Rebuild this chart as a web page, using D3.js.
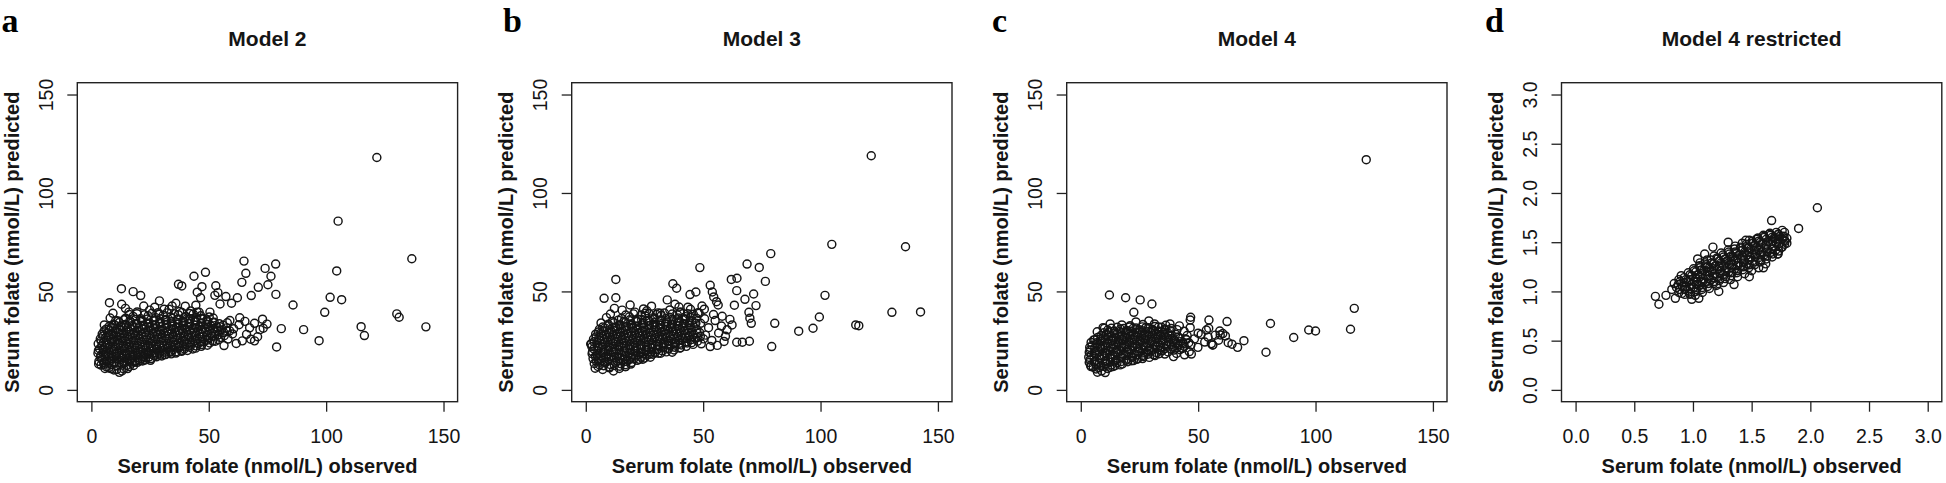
<!DOCTYPE html>
<html><head><meta charset="utf-8">
<script src="https://cdn.jsdelivr.net/npm/d3@7"></script>
<style>body{margin:0;background:#fff}svg{display:block}</style>
</head><body>
<svg id="chart" width="1946" height="483"></svg>
<script>
const panelLetters = ["a","b","c","d"];
const panelTitles = ["Model 2","Model 3","Model 4","Model 4 restricted"];
const xTitle = "Serum folate (nmol/L) observed";
const yTitle = "Serum folate (nmol/L) predicted";
const ticksFull = [0,50,100,150];
const ticksRestricted = [0,0.5,1,1.5,2,2.5,3];
const limsFull = [0,150];
const limsRestricted = [0,3];

// [observed, predicted]
const model2 = [
[7.4,11.2],[9.6,10.1],[11.9,8.9],[13.8,10.6],[16.2,11.9],
[4.1,12.6],[6.3,11.8],[8.5,12.9],[10.7,12.2],[12.8,13.1],[15.0,12.4],[17.3,13.6],[19.6,14.0],[21.8,14.7],
[3.2,14.5],[5.4,13.9],[7.6,14.8],[9.8,14.1],[12.0,15.2],[14.1,14.6],[16.4,15.5],[18.6,14.9],[20.9,15.8],[23.1,16.3],[25.4,15.9],[27.7,16.8],[30.0,17.2],
[3.9,16.4],[6.1,16.9],[8.4,15.9],[10.6,17.1],[12.9,16.3],[15.1,17.4],[17.4,16.6],[19.7,17.7],[22.0,17.0],[24.3,18.2],[26.6,17.5],[28.9,18.6],[31.2,18.0],[33.6,19.1],[36.0,18.7],[38.4,19.6],
[2.8,18.6],[5.0,19.1],[7.3,18.2],[9.5,19.4],[11.8,18.5],[14.0,19.7],[16.3,18.9],[18.6,19.9],[20.9,19.2],[23.2,20.3],[25.5,19.6],[27.8,20.6],[30.1,19.9],[32.5,21.0],[34.8,20.4],[37.2,21.4],[39.6,20.8],[42.0,21.7],[44.4,21.2],[46.8,22.1],
[3.5,20.9],[5.8,21.6],[8.0,20.6],[10.3,21.9],[12.6,21.0],[14.9,22.2],[17.2,21.3],[19.5,22.5],[21.8,21.7],[24.1,22.8],[26.4,22.0],[28.8,23.1],[31.1,22.4],[33.5,23.5],[35.9,22.8],[38.3,23.9],[40.7,23.2],[43.1,24.2],[45.5,23.5],[47.9,24.4],[50.4,23.8],[52.8,24.7],
[2.9,23.4],[5.2,24.1],[7.5,23.1],[9.8,24.4],[12.1,23.6],[14.4,24.8],[16.7,23.9],[19.0,25.1],[21.3,24.3],[23.7,25.4],[26.0,24.6],[28.4,25.8],[30.7,25.0],[33.1,26.1],[35.5,25.3],[37.9,26.4],[40.3,25.7],[42.7,26.7],[45.1,26.0],[47.5,27.0],[50.0,26.3],[52.5,27.3],[55.0,26.6],
[3.8,25.9],[6.1,26.6],[8.4,25.6],[10.7,26.9],[13.0,26.1],[15.3,27.2],[17.6,26.4],[19.9,27.6],[22.3,26.8],[24.6,27.9],[27.0,27.1],[29.4,28.2],[31.8,27.5],[34.2,28.6],[36.6,27.8],[39.0,28.9],[41.4,28.1],[43.8,29.2],[46.3,28.5],[48.8,29.5],[51.3,28.8],[53.8,29.8],[56.4,29.1],[58.9,30.0],
[4.6,28.3],[6.9,29.0],[9.2,28.1],[11.5,29.3],[13.8,28.6],[16.1,29.7],[18.5,28.9],[20.8,30.0],[23.2,29.2],[25.5,30.3],[27.9,29.5],[30.3,30.6],[32.7,29.9],[35.1,31.0],[37.5,30.2],[39.9,31.3],[42.3,30.5],[44.7,31.6],[47.2,30.8],[49.7,31.9],[52.2,31.2],[54.8,32.1],[57.5,31.5],
[6.2,30.8],[8.5,31.6],[10.8,30.6],[13.1,31.9],[15.4,31.1],[17.8,32.2],[20.1,31.4],[22.5,32.5],[24.9,31.7],[27.3,32.8],[29.7,32.0],[32.1,33.1],[34.5,32.3],[36.9,33.4],[39.3,32.6],[41.7,33.7],[44.2,32.9],[46.7,34.0],[49.2,33.2],[51.8,34.2],[54.5,33.6],
[9.4,33.4],[11.9,34.2],[14.3,33.2],[16.7,34.5],[19.1,33.7],[21.6,34.8],[24.0,34.0],[26.5,35.1],[29.0,34.3],[31.5,35.4],[34.0,34.6],[36.5,35.7],[39.0,34.9],[41.5,36.0],[44.0,35.2],[46.6,36.3],[49.2,35.5],[51.9,36.5],
[14.6,36.4],[17.8,37.3],[21.0,36.1],[24.2,37.6],[27.4,36.7],[30.6,37.9],[33.8,37.0],[37.0,38.2],[40.2,37.3],[43.4,38.5],[46.6,37.6],
[19.5,39.6],[24.8,40.5],[28.4,39.2],[33.1,40.9],[37.6,39.8],[42.3,40.1],[45.9,39.4],
[5.8,10.9],[8.3,10.8],[10.8,10.3],[13.0,9.6],[15.4,10.8],[18.0,12.4],
[3.1,13.2],[5.3,13.0],[7.5,13.7],[9.7,13.5],[11.9,14.0],[14.0,13.6],[16.3,14.3],[18.5,14.1],[20.8,14.9],[23.0,15.2],[25.2,15.0],
[4.4,15.6],[6.6,15.2],[8.8,16.0],[11.0,15.7],[13.3,16.2],[15.5,15.9],[17.8,16.6],[20.0,16.4],[22.3,16.9],[24.6,16.7],[26.9,17.2],[29.2,17.6],[31.6,17.9],[34.0,18.3],
[4.0,17.6],[6.2,18.0],[8.5,17.5],[10.7,18.2],[13.0,17.9],[15.2,18.4],[17.5,17.9],[19.8,18.6],[22.1,18.3],[24.4,18.9],[26.7,18.7],[29.0,19.3],[31.4,19.1],[33.8,19.6],[36.1,19.4],[38.5,20.1],[40.9,20.0],[43.2,20.8],
[3.0,20.0],[5.2,20.4],[7.4,19.8],[9.6,20.6],[11.9,20.2],[14.1,20.9],[16.4,20.4],[18.7,21.1],[21.0,20.6],[23.3,21.3],[25.6,20.9],[27.9,21.6],[30.3,21.2],[32.6,21.9],[35.0,21.5],[37.4,22.2],[39.8,21.8],[42.2,22.6],[44.6,22.3],[47.0,23.0],[49.4,22.7],
[4.5,22.4],[6.8,22.9],[9.1,22.2],[11.4,23.0],[13.7,22.5],[16.0,23.2],[18.3,22.7],[20.6,23.4],[22.9,22.9],[25.2,23.6],[27.6,23.2],[29.9,23.9],[32.3,23.5],[34.7,24.2],[37.1,23.8],[39.5,24.6],[41.9,24.1],[44.3,24.9],[46.7,24.5],[49.2,25.2],[51.7,24.8],[54.2,25.5],
[4.1,24.9],[6.4,25.3],[8.7,24.7],[11.0,25.5],[13.3,25.0],[15.6,25.7],[17.9,25.2],[20.2,25.9],[22.6,25.4],[24.9,26.1],[27.3,25.7],[29.7,26.4],[32.0,26.0],[34.4,26.7],[36.8,26.2],[39.2,26.9],[41.6,26.6],[44.0,27.3],[46.5,26.9],[49.0,27.6],[51.5,27.2],[54.0,27.9],[56.6,27.5],
[5.0,27.4],[7.3,27.9],[9.6,27.2],[11.9,28.0],[14.2,27.5],[16.5,28.2],[18.8,27.7],[21.2,28.4],[23.5,27.9],[25.9,28.6],[28.3,28.2],[30.7,28.9],[33.1,28.4],[35.5,29.1],[37.9,28.7],[40.3,29.4],[42.7,29.0],[45.1,29.7],[47.6,29.3],[50.1,30.0],[52.6,29.6],[55.2,30.4],[57.8,29.9],
[5.4,29.9],[7.7,30.4],[10.0,29.7],[12.3,30.5],[14.7,30.0],[17.0,30.7],[19.4,30.2],[21.7,30.9],[24.1,30.4],[26.5,31.1],[28.9,30.7],[31.3,31.4],[33.7,30.9],[36.1,31.6],[38.5,31.2],[40.9,31.9],[43.4,31.4],[45.9,32.1],[48.4,31.7],[50.9,32.4],[53.5,32.0],[56.1,32.8],
[7.6,32.3],[10.0,32.9],[12.4,32.4],[14.8,33.0],[17.2,32.6],[19.6,33.3],[22.0,32.8],[24.5,33.5],[26.9,33.0],[29.4,33.7],[31.9,33.2],[34.4,33.9],[36.9,33.5],[39.4,34.2],[41.9,33.7],[44.4,34.4],[47.0,33.9],[49.6,34.6],[52.3,34.3],
[11.4,35.0],[13.9,35.6],[16.4,35.1],[18.9,35.8],[21.5,35.3],[24.0,36.0],[26.6,35.5],[29.2,36.2],[31.8,35.7],[34.4,36.4],[37.0,35.9],[39.6,36.6],[42.2,36.1],[44.8,36.8],[47.5,36.3],[50.2,37.0],
[16.2,38.3],[19.4,38.7],[22.6,38.1],[25.8,38.9],[29.0,38.4],[32.2,39.1],[35.4,38.6],[38.6,39.3],[41.8,38.8],[45.0,39.5],
[5.5,33.0],[8.0,36.5],[16.0,39.5],[27.0,42.0],[31.0,41.0],[40.0,42.5],[44.5,43.0],[50.5,39.5],[36.0,44.0],
[56.5,22.5],[58.2,25.8],[60.1,28.4],[61.7,23.6],[62.9,33.1],[64.3,24.9],[66.1,28.2],[67.4,31.5],[69.5,33.8],[69.5,24.9],[70.8,27.0],[72.9,35.9],[71.8,30.6],[74.8,33.4],[59.0,35.2],[63.2,36.6],[57.9,34.1],[60.6,31.0],[65.4,34.8],[67.9,25.7],[73.2,31.3],
[121.6,118.0],[105.1,85.7],[136.5,66.6],[104.5,60.4],[101.7,47.0],[106.6,45.8],[99.4,39.4],[85.9,43.1],[130.1,38.6],[131.1,36.9],[114.9,32.1],[116.3,27.6],[142.5,32.0],[97.0,25.0],[90.4,30.6],[80.9,31.1],[78.9,21.8],
[78.5,63.9],[74.0,61.7],[76.5,57.7],[75.2,53.4],[71.1,52.1],[78.6,48.5],[65.0,65.4],[65.8,59.2],[64.1,54.6],[68.1,47.9],[62.2,46.8],[59.7,44.0],
[48.6,59.7],[43.7,57.7],[47.1,52.4],[45.1,49.6],[46.5,46.8],[53.0,52.9],[53.9,49.4],[52.6,48.0],[54.8,43.6],[57.3,47.4],[37.1,53.6],[38.5,52.8],
[12.8,51.4],[17.8,49.9],[21.0,47.9],[29.0,45.2],[7.7,44.3],[9.2,38.9],[12.9,43.5],[14.5,41.4],[22.3,42.6],[10.4,35.2],[34.4,42.6]
];

const model3 = [
[4.0,11.0],[7.2,10.4],[10.1,11.2],[11.8,9.6],[14.3,10.9],[16.9,11.8],
[3.6,13.4],[5.9,12.7],[8.2,13.8],[10.4,12.9],[12.7,14.0],[14.9,13.3],[17.2,14.4],[19.5,13.9],[21.9,15.0],[24.3,15.6],
[3.1,15.9],[5.3,15.2],[7.6,16.3],[9.8,15.5],[12.1,16.6],[14.4,15.8],[16.7,16.9],[19.0,16.1],[21.3,17.2],[23.7,16.6],[26.1,17.6],[28.5,18.1],[30.9,18.6],
[2.7,18.4],[4.9,17.7],[7.2,18.8],[9.4,18.0],[11.7,19.1],[14.0,18.3],[16.3,19.4],[18.6,18.6],[20.9,19.7],[23.2,18.9],[25.6,20.0],[27.9,19.3],[30.3,20.4],[32.7,19.8],[35.1,20.8],[37.6,20.3],[40.1,21.2],
[3.4,20.8],[5.6,21.5],[7.9,20.4],[10.1,21.7],[12.4,20.9],[14.7,22.0],[17.0,21.2],[19.3,22.3],[21.6,21.5],[24.0,22.6],[26.3,21.8],[28.7,22.9],[31.1,22.1],[33.5,23.2],[35.9,22.5],[38.3,23.5],[40.7,22.8],[43.2,23.8],[45.7,23.1],
[2.4,23.3],[4.7,24.0],[7.0,23.0],[9.3,24.3],[11.6,23.5],[13.9,24.6],[16.2,23.8],[18.5,24.9],[20.9,24.1],[23.2,25.2],[25.6,24.4],[28.0,25.5],[30.4,24.7],[32.8,25.8],[35.2,25.0],[37.6,26.1],[40.0,25.3],[42.5,26.4],[45.0,25.6],[47.5,26.6],[50.1,25.9],
[3.3,25.8],[5.6,26.5],[7.9,25.5],[10.2,26.8],[12.5,26.0],[14.8,27.1],[17.1,26.3],[19.5,27.4],[21.8,26.6],[24.2,27.7],[26.6,26.9],[29.0,28.0],[31.4,27.2],[33.8,28.3],[36.2,27.5],[38.6,28.6],[41.0,27.8],[43.5,28.9],[46.0,28.1],[48.5,29.1],
[4.2,28.3],[6.5,29.0],[8.8,28.0],[11.1,29.3],[13.4,28.5],[15.8,29.6],[18.1,28.8],[20.5,29.9],[22.9,29.1],[25.3,30.2],[27.7,29.4],[30.1,30.5],[32.5,29.7],[34.9,30.8],[37.3,30.0],[39.8,31.1],[42.3,30.3],[44.8,31.4],[47.3,30.6],
[5.8,30.8],[8.1,31.5],[10.4,30.5],[12.8,31.8],[15.1,31.0],[17.5,32.1],[19.9,31.3],[22.3,32.4],[24.7,31.6],[27.1,32.7],[29.5,31.9],[31.9,33.0],[34.4,32.2],[36.9,33.3],[39.4,32.5],[41.9,33.6],[44.4,32.8],[46.9,33.9],
[9.6,33.3],[12.0,34.1],[14.5,33.1],[17.0,34.4],[19.5,33.6],[22.0,34.7],[24.5,33.9],[27.0,35.0],[29.6,34.2],[32.2,35.3],[34.8,34.5],[37.4,35.6],[40.0,34.8],[42.6,35.9],[45.2,35.1],
[15.2,36.3],[18.6,37.1],[22.0,36.0],[25.4,37.5],[28.8,36.6],[32.2,37.8],[35.6,36.9],[39.0,38.1],[42.4,37.2],[45.8,38.4],
[20.9,39.5],[26.0,40.2],[30.7,39.1],[35.8,40.6],[40.3,39.6],[44.6,40.9],[47.8,39.2],
[5.2,11.9],[7.6,12.3],[9.9,11.6],[12.2,12.4],[14.5,12.0],[16.9,12.8],[19.2,13.1],
[4.5,14.6],[6.8,14.9],[9.0,14.3],[11.3,15.1],[13.5,14.7],[15.8,15.3],[18.1,15.0],[20.4,15.7],[22.8,15.5],[25.1,16.2],[27.5,16.6],
[4.1,17.0],[6.4,17.4],[8.6,16.8],[10.9,17.6],[13.2,17.1],[15.5,17.8],[17.8,17.3],[20.1,18.0],[22.4,17.7],[24.8,18.4],[27.1,18.1],[29.5,18.8],[31.9,18.6],[34.3,19.3],[36.8,19.1],
[2.9,19.4],[5.1,19.9],[7.4,19.3],[9.6,20.1],[11.9,19.6],[14.2,20.3],[16.5,19.8],[18.8,20.5],[21.1,20.1],[23.5,20.8],[25.8,20.4],[28.2,21.1],[30.6,20.7],[33.0,21.4],[35.4,21.0],[37.8,21.7],[40.3,21.4],[42.8,22.1],
[2.6,21.9],[4.9,22.4],[7.2,21.8],[9.4,22.6],[11.7,22.1],[14.0,22.8],[16.3,22.3],[18.6,23.0],[21.0,22.5],[23.3,23.2],[25.7,22.8],[28.1,23.5],[30.5,23.1],[32.9,23.8],[35.3,23.4],[37.7,24.1],[40.1,23.7],[42.6,24.4],[45.1,24.0],[47.6,24.7],
[3.5,24.4],[5.8,24.9],[8.1,24.3],[10.4,25.1],[12.7,24.6],[15.0,25.3],[17.3,24.8],[19.7,25.5],[22.0,25.0],[24.4,25.7],[26.8,25.3],[29.2,26.0],[31.6,25.6],[34.0,26.3],[36.4,25.9],[38.8,26.6],[41.2,26.2],[43.7,26.9],[46.2,26.5],[48.8,27.2],
[4.4,26.9],[6.7,27.4],[9.0,26.7],[11.3,27.5],[13.6,27.0],[16.0,27.7],[18.3,27.2],[20.7,27.9],[23.0,27.4],[25.4,28.1],[27.8,27.7],[30.2,28.4],[32.6,28.0],[35.0,28.7],[37.4,28.3],[39.9,29.0],[42.4,28.6],[44.9,29.3],[47.4,28.9],
[5.3,29.4],[7.6,29.9],[9.9,29.2],[12.2,30.0],[14.6,29.5],[16.9,30.2],[19.3,29.7],[21.7,30.4],[24.1,29.9],[26.5,30.6],[28.9,30.2],[31.3,30.9],[33.7,30.5],[36.1,31.2],[38.6,30.8],[41.1,31.5],[43.6,31.1],[46.1,31.8],
[7.2,31.9],[9.6,32.5],[12.0,31.8],[14.4,32.6],[16.8,32.1],[19.2,32.8],[21.6,32.3],[24.1,33.0],[26.5,32.5],[29.0,33.2],[31.5,32.8],[34.0,33.5],[36.5,33.1],[39.0,33.8],[41.5,33.4],[44.0,34.1],[46.6,33.7],
[11.3,34.8],[13.8,35.4],[16.3,34.9],[18.8,35.6],[21.3,35.1],[23.8,35.8],[26.3,35.3],[28.9,36.0],[31.5,35.5],[34.1,36.2],[36.7,35.8],[39.3,36.5],[41.9,36.1],[44.5,36.8],[47.1,36.4],
[17.0,38.0],[20.3,38.6],[23.6,38.0],[26.9,38.8],[30.2,38.3],[33.5,39.0],[36.8,38.5],[40.1,39.2],[43.4,38.7],
[6.5,34.0],[10.5,38.5],[15.5,40.5],[28.0,42.5],[38.0,43.5],[43.5,42.0],[50.5,41.0],
[49.2,23.4],[51.0,27.8],[52.3,31.6],[53.7,25.1],[55.1,35.2],[56.6,28.9],[57.8,32.4],[58.9,24.6],[60.2,30.5],[61.4,35.8],[59.5,27.2],[54.4,38.3],[50.6,36.1],[48.9,33.8],[56.0,22.6],[62.3,33.0],[58.1,37.4],
[121.6,118.9],[104.8,73.9],[136.2,72.7],[78.8,69.2],[73.9,62.2],[68.7,63.9],[48.6,62.1],[64.4,56.7],[62.0,56.1],[76.5,55.1],[64.3,50.4],[71.5,48.7],[67.8,46.0],[72.5,42.8],[63.3,43.0],
[101.9,48.0],[99.5,37.0],[96.8,31.3],[90.7,29.8],[80.5,33.8],[79.2,22.0],[115.0,33.0],[116.3,32.6],[130.4,39.4],[142.6,39.6],
[69.5,39.4],[69.9,36.4],[70.5,33.8],[69.7,24.7],[64.3,24.2],[66.7,24.2],[53.0,22.0],
[37.1,53.9],[38.7,51.6],[34.7,45.7],[53.0,53.1],[53.9,49.7],[54.5,47.2],[55.7,44.8],[56.4,43.1],[44.4,48.4],[46.9,49.7],[49.5,42.6],
[12.8,56.1],[12.8,46.8],[7.8,46.5],[12.2,41.4],[8.8,36.7],[18.9,43.1],[24.6,41.1],[25.3,38.9],[31.7,38.9],[39.7,42.1],[48.3,38.9],[2.1,23.3],[16.9,11.8]
];

const model4 = [
[6.5,10.6],[8.9,9.7],[11.4,10.9],[13.6,11.8],
[4.2,12.4],[6.4,13.1],[8.6,12.2],[10.9,13.4],[13.1,12.7],[15.4,13.8],[17.7,13.2],[20.0,14.3],[22.4,14.9],
[3.9,15.2],[6.1,14.6],[8.3,15.7],[10.6,14.9],[12.8,16.0],[15.1,15.2],[17.4,16.3],[19.7,15.6],[22.0,16.6],[24.4,16.0],[26.8,17.0],[29.2,16.5],[31.6,17.4],
[4.5,17.6],[6.7,18.3],[9.0,17.3],[11.2,18.5],[13.5,17.7],[15.8,18.8],[18.1,18.0],[20.4,19.1],[22.7,18.3],[25.1,19.4],[27.5,18.6],[29.9,19.7],[32.3,18.9],[34.7,19.9],[37.2,19.3],[39.7,20.2],
[4.0,20.3],[6.2,19.7],[8.5,20.8],[10.7,20.0],[13.0,21.1],[15.3,20.3],[17.6,21.4],[19.9,20.6],[22.2,21.7],[24.6,20.9],[27.0,22.0],[29.4,21.2],[31.8,22.3],[34.2,21.5],[36.6,22.6],[39.1,21.8],[41.6,22.8],[44.1,22.1],
[4.8,22.6],[7.0,23.3],[9.3,22.3],[11.5,23.5],[13.8,22.7],[16.1,23.8],[18.4,23.0],[20.7,24.1],[23.0,23.3],[25.4,24.4],[27.8,23.6],[30.2,24.7],[32.6,23.9],[35.0,25.0],[37.4,24.2],[39.9,25.2],[42.4,24.5],[44.9,25.5],
[6.0,25.4],[8.3,24.8],[10.5,25.9],[12.8,25.1],[15.1,26.2],[17.4,25.4],[19.7,26.5],[22.0,25.7],[24.4,26.8],[26.8,26.0],[29.2,27.1],[31.6,26.3],[34.0,27.4],[36.4,26.6],[38.9,27.6],[41.4,26.9],
[8.6,27.6],[10.9,28.3],[13.2,27.3],[15.5,28.5],[17.8,27.7],[20.1,28.8],[22.5,28.0],[24.9,29.1],[27.3,28.3],[29.7,29.4],[32.1,28.6],[34.6,29.7],[37.1,28.9],
[11.5,30.4],[14.2,29.8],[16.9,30.9],[19.6,30.2],[22.3,31.3],[25.0,30.5],[27.7,31.6],[30.4,30.8],[33.1,31.9],[35.8,30.9],
[9.5,31.6],[17.5,33.0],[21.0,32.6],[26.5,33.2],[31.4,33.5],[36.2,32.8],
[5.3,11.6],[7.7,11.2],[10.1,11.9],[12.4,11.4],[14.6,12.3],[16.8,12.7],
[3.6,13.9],[5.8,14.3],[8.0,13.7],[10.3,14.5],[12.5,14.0],[14.8,14.7],[17.0,14.3],[19.3,15.0],[21.6,14.8],[23.9,15.5],[26.3,15.9],
[3.4,16.6],[5.6,16.9],[7.9,16.3],[10.1,17.1],[12.4,16.6],[14.6,17.3],[16.9,16.8],[19.2,17.5],[21.5,17.1],[23.8,17.8],[26.2,17.4],[28.6,18.1],[31.0,17.8],[33.4,18.4],[35.8,18.2],
[3.6,19.1],[5.8,18.9],[8.0,19.4],[10.3,18.9],[12.5,19.6],[14.8,19.2],[17.1,19.9],[19.4,19.4],[21.7,20.1],[24.0,19.7],[26.4,20.4],[28.8,20.0],[31.2,20.7],[33.6,20.3],[36.0,21.0],[38.4,20.7],[40.9,21.3],[43.3,21.0],
[3.8,21.6],[6.0,21.3],[8.2,21.9],[10.5,21.4],[12.7,22.1],[15.0,21.6],[17.3,22.3],[19.6,21.9],[21.9,22.6],[24.2,22.1],[26.6,22.8],[29.0,22.4],[31.4,23.1],[33.8,22.7],[36.2,23.4],[38.6,23.0],[41.1,23.6],[43.6,23.3],[46.0,24.0],
[4.4,24.1],[6.7,23.9],[9.0,24.5],[11.2,24.0],[13.5,24.7],[15.8,24.2],[18.1,24.9],[20.4,24.4],[22.8,25.1],[25.2,24.6],[27.6,25.3],[30.0,24.9],[32.4,25.6],[34.8,25.2],[37.2,25.9],[39.7,25.5],[42.2,26.1],[44.7,25.8],
[7.2,26.6],[9.5,26.3],[11.8,26.9],[14.1,26.5],[16.4,27.2],[18.7,26.7],[21.0,27.4],[23.4,26.9],[25.8,27.6],[28.2,27.1],[30.6,27.8],[33.0,27.4],[35.4,28.1],[37.9,27.7],[40.4,28.3],
[9.8,29.0],[12.1,29.4],[14.4,28.9],[16.7,29.6],[19.0,29.1],[21.4,29.8],[23.8,29.3],[26.2,30.0],[28.6,29.5],[31.0,30.2],[33.4,29.8],[35.9,30.4],[38.3,30.0],
[13.0,31.3],[15.6,31.8],[18.2,31.2],[20.8,31.9],[23.5,31.4],[26.2,32.0],[28.9,31.6],[31.6,32.2],[34.4,31.8],
[7.0,29.5],[12.5,33.5],[23.5,34.5],[29.0,35.0],[38.0,33.5],[42.0,32.5],
[40.8,18.5],[42.2,20.4],[43.5,24.1],[45.3,27.6],[46.9,22.8],[48.4,25.9],[49.9,21.6],[51.3,28.2],[52.8,24.3],[54.2,26.8],[55.6,23.5],[57.3,27.8],[58.7,25.2],[60.5,28.6],[44.0,29.8],[47.1,18.2],[41.0,30.6],[56.2,22.8],[53.5,30.4],[38.5,31.2],[62.8,24.0],[46.6,35.5],
[121.6,116.9],[116.5,41.4],[114.9,30.8],[80.8,33.7],[78.9,19.1],[90.7,26.6],[97.1,30.4],[100.0,29.9],
[12.2,48.2],[19.1,46.8],[25.3,45.7],[30.3,43.6],[22.6,39.4],[46.8,36.9],[54.6,35.5],[62.3,34.7],[54.5,31.3],[64.4,23.2],[66.8,21.6],[69.5,25.0],[46.6,31.6],
[10.1,31.3],[5.5,25.4],[7.1,9.0],[10.4,8.8],[4.4,11.8],[39.5,16.9],[44.2,17.8],[46.2,19.4],[59.4,27.9],[61.6,27.4],[59.2,29.9],[56.2,22.8],[50.0,28.8]
];

const model4r = [
[0.86,1.04],[0.91,1.05],[0.96,1.10],[1.01,1.10],[1.06,1.15],[1.11,1.16],[1.16,1.21],[1.21,1.22],[1.26,1.26],[1.31,1.27],[1.36,1.32],[1.41,1.33],[1.46,1.37],[1.51,1.38],[1.56,1.42],[1.61,1.44],[1.66,1.48],[1.71,1.49],[1.76,1.53],[1.80,1.54],
[0.89,1.10],[0.94,1.12],[0.99,1.16],[1.04,1.17],[1.09,1.21],[1.14,1.24],[1.19,1.26],[1.24,1.29],[1.29,1.31],[1.34,1.35],[1.39,1.37],[1.44,1.40],[1.49,1.43],[1.54,1.45],[1.59,1.49],[1.64,1.51],[1.69,1.54],[1.74,1.56],[1.78,1.60],
[0.88,0.99],[0.93,1.02],[0.98,1.03],[1.03,1.07],[1.08,1.09],[1.13,1.13],[1.18,1.14],[1.23,1.18],[1.28,1.20],[1.33,1.24],[1.38,1.26],[1.43,1.29],[1.48,1.32],[1.53,1.35],[1.58,1.37],[1.63,1.40],[1.68,1.43],[1.73,1.46],[1.78,1.48],
[0.96,1.19],[1.01,1.21],[1.06,1.24],[1.11,1.27],[1.16,1.29],[1.21,1.33],[1.26,1.35],[1.31,1.38],[1.36,1.40],[1.41,1.44],[1.46,1.46],[1.51,1.49],[1.56,1.51],[1.61,1.55],[1.66,1.57],[1.71,1.60],
[0.93,0.97],[0.98,0.98],[1.03,1.02],[1.08,1.04],[1.13,1.08],[1.18,1.10],[1.23,1.13],[1.28,1.15],[1.33,1.19],[1.38,1.21],[1.43,1.25],[1.48,1.27],[1.53,1.30],[1.58,1.32],[1.63,1.36],[1.68,1.38],[1.73,1.41],
[1.06,1.29],[1.12,1.32],[1.18,1.36],[1.24,1.39],[1.30,1.42],[1.36,1.46],[1.42,1.49],[1.48,1.52],[1.54,1.53],[1.60,1.57],
[1.02,0.96],[1.08,0.99],[1.14,1.03],[1.20,1.06],[1.26,1.09],[1.32,1.12],[1.38,1.15],[1.44,1.18],[1.50,1.21],[1.56,1.24],[1.62,1.28],
[0.875,1.07],[0.925,1.09],[0.975,1.12],[1.025,1.14],[1.075,1.18],[1.125,1.20],[1.175,1.23],[1.225,1.25],[1.275,1.29],[1.325,1.31],[1.375,1.34],[1.425,1.36],[1.475,1.40],[1.525,1.42],[1.575,1.45],[1.625,1.47],[1.675,1.51],[1.725,1.53],[1.775,1.56],
[0.885,1.02],[0.935,1.05],[0.985,1.07],[1.035,1.10],[1.085,1.13],[1.135,1.16],[1.185,1.18],[1.235,1.21],[1.285,1.24],[1.335,1.27],[1.385,1.29],[1.435,1.32],[1.485,1.35],[1.535,1.38],[1.585,1.40],[1.635,1.43],[1.685,1.46],[1.735,1.49],[1.785,1.51],
[0.925,1.14],[0.975,1.17],[1.025,1.20],[1.075,1.22],[1.125,1.25],[1.175,1.28],[1.225,1.31],[1.275,1.33],[1.325,1.36],[1.375,1.39],[1.425,1.42],[1.475,1.44],[1.525,1.47],[1.575,1.50],[1.625,1.53],[1.675,1.55],[1.725,1.58],
[0.905,0.98],[0.955,1.01],[1.005,1.04],[1.055,1.06],[1.105,1.09],[1.155,1.12],[1.205,1.15],[1.255,1.17],[1.305,1.20],[1.355,1.23],[1.405,1.26],[1.455,1.28],[1.505,1.31],[1.555,1.34],[1.605,1.37],[1.655,1.39],[1.705,1.42],[1.755,1.45],
[1.005,1.23],[1.055,1.26],[1.105,1.29],[1.155,1.32],[1.205,1.34],[1.255,1.37],[1.305,1.40],[1.355,1.43],[1.405,1.45],[1.455,1.48],[1.505,1.51],[1.555,1.54],[1.605,1.56],[1.655,1.59],
[0.975,0.97],[1.025,1.00],[1.075,1.02],[1.125,1.05],[1.175,1.08],[1.225,1.11],[1.275,1.13],[1.325,1.16],[1.375,1.19],[1.425,1.22],[1.475,1.24],[1.525,1.27],[1.575,1.30],[1.625,1.33],[1.675,1.35],[1.725,1.38],
[2.06,1.85],[1.90,1.64],[1.67,1.72],[0.68,0.95],[0.71,0.87],[0.77,0.96],[0.85,0.93],[0.82,1.02],[0.84,1.08],[0.88,1.12],[0.90,1.16],[0.99,0.92],[1.05,0.93],[1.22,1.00],[1.35,1.07],[1.48,1.15],[1.60,1.24],
[1.72,1.38],[1.76,1.62],[1.73,1.58],[1.78,1.52],[1.80,1.49],[1.76,1.45],[1.55,1.54],[1.45,1.52],[1.30,1.50],[1.17,1.45],[1.10,1.38],[1.04,1.33],[1.65,1.58],[1.70,1.55],[1.12,1.25],[1.05,1.06]
];

const panelData = [model2, model3, model4, model4r];
const panelLims = [limsFull, limsFull, limsFull, limsRestricted];
const panelTicks = [ticksFull, ticksFull, ticksFull, ticksRestricted];

// layout
const boxLefts = [77.3, 571.7, 1066.7, 1561.5];
const letterX = [1.5, 503, 992, 1485];
const boxW = 380.3, boxTop = 82.7, boxH = 319;
const ink = "#151515";
const sans = "'Liberation Sans', Arial, Helvetica, sans-serif";

const svg = d3.select("#chart");
svg.append("rect").attr("width",1946).attr("height",483).attr("fill","#fff");

panelData.forEach((data, i) => {
  const lims = panelLims[i];
  const span = lims[1]-lims[0];
  const L = boxLefts[i];
  const x = d3.scaleLinear().domain([lims[0]-0.04*span, lims[1]+0.04*span]).range([L, L+boxW]);
  const y = d3.scaleLinear().domain([lims[0]-0.04*span, lims[1]+0.04*span]).range([boxTop+boxH, boxTop]);
  const fmt = i === 3 ? d3.format(".1f") : d3.format("d");
  const g = svg.append("g");

  g.append("g").selectAll("circle").data(data).join("circle")
    .attr("cx", d => x(d[0])).attr("cy", d => y(d[1])).attr("r", 4)
    .attr("fill","none").attr("stroke", ink).attr("stroke-width", 1.45);

  g.append("rect").attr("x", L).attr("y", boxTop).attr("width", boxW).attr("height", boxH)
    .attr("fill","none").attr("stroke","#222").attr("stroke-width",1.4);

  const xa = g.append("g").attr("transform", `translate(0,${boxTop+boxH})`)
    .call(d3.axisBottom(x).tickValues(panelTicks[i]).tickSize(10).tickFormat(fmt));
  xa.select(".domain").remove();
  xa.selectAll(".tick line").attr("stroke","#222").attr("stroke-width",1.3);
  xa.selectAll(".tick text").attr("y", 41).attr("dy", 0)
    .attr("font-family", sans).attr("font-size", 19.5).attr("fill", ink);

  const ya = g.append("g").attr("transform", `translate(${L},0)`)
    .call(d3.axisLeft(y).tickValues(panelTicks[i]).tickSize(10).tickFormat(fmt));
  ya.select(".domain").remove();
  ya.selectAll(".tick line").attr("stroke","#222").attr("stroke-width",1.3);
  ya.selectAll(".tick text").attr("transform","rotate(-90)")
    .attr("x", 0).attr("y", -24.3).attr("dy", 0).attr("text-anchor","middle")
    .attr("font-family", sans).attr("font-size", 19.5).attr("fill", ink);

  g.append("text").attr("x", L+boxW/2).attr("y", 46).attr("text-anchor","middle")
    .attr("font-family", sans).attr("font-weight","bold").attr("font-size", 21).attr("fill", ink)
    .text(panelTitles[i]);
  g.append("text").attr("x", L+boxW/2).attr("y", 473).attr("text-anchor","middle")
    .attr("font-family", sans).attr("font-weight","bold").attr("font-size", 20).attr("fill", ink)
    .text(xTitle);
  g.append("text").attr("transform", `translate(${L-58.8},${boxTop+boxH/2}) rotate(-90)`)
    .attr("text-anchor","middle")
    .attr("font-family", sans).attr("font-weight","bold").attr("font-size", 20).attr("fill", ink)
    .text(yTitle);
  g.append("text").attr("x", letterX[i]).attr("y", 32)
    .attr("font-family", "'Liberation Serif', 'Times New Roman', serif").attr("font-weight","bold")
    .attr("font-size", 34).attr("fill", "#000").text(panelLetters[i]);
});
</script>
</body></html>
